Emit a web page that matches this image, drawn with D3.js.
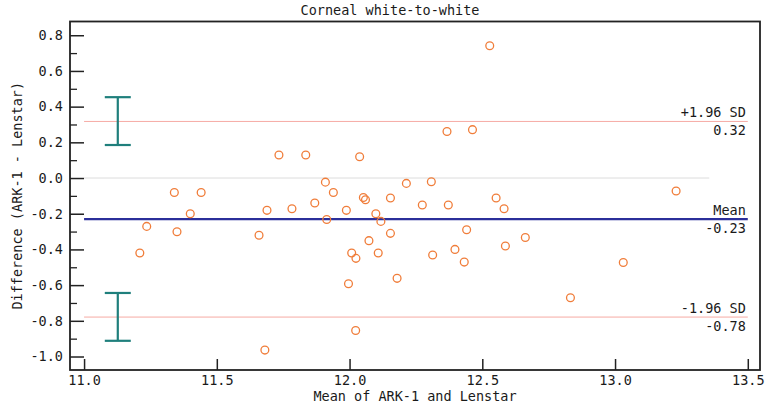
<!DOCTYPE html>
<html>
<head>
<meta charset="utf-8">
<script src="https://cdn.jsdelivr.net/npm/d3@7"></script>
<style>
  html, body { margin: 0; padding: 0; background: #fff; }
  svg { display: block; }
  text { font-family: "DejaVu Sans Mono", "Liberation Mono", monospace; fill: #1a1a1a; }
</style>
</head>
<body>
<svg id="chart" width="766" height="406"></svg>
<script>
// ---- data ----
const title = "Corneal white-to-white";
const xLabel = "Mean of ARK-1 and Lenstar";
const yLabel = "Difference (ARK-1 - Lenstar)";

const meanVals = [
  11.734, 11.835, 11.340, 11.441, 11.400, 11.236, 11.350, 11.210, 11.689, 11.659,
  11.783, 11.869, 11.909, 11.939, 11.914, 11.681, 12.528, 12.367, 12.463, 12.038,
  12.214, 12.308, 12.052, 12.060, 12.154, 11.988, 12.274, 12.372, 12.552, 12.582,
  12.099, 12.118, 12.154, 12.441, 12.662, 12.073, 12.008, 12.024, 12.108, 12.313,
  12.397, 12.432, 12.587, 12.179, 11.996, 12.832, 12.023, 13.230, 13.031
];
const diffVals = [
  0.129, 0.129, -0.081, -0.081, -0.200, -0.271, -0.301, -0.420, -0.181, -0.321,
  -0.172, -0.140, -0.023, -0.081, -0.232, -0.964, 0.741, 0.261, 0.271, 0.119,
  -0.030, -0.021, -0.109, -0.122, -0.112, -0.181, -0.151, -0.151, -0.112, -0.172,
  -0.200, -0.243, -0.310, -0.290, -0.333, -0.351, -0.420, -0.450, -0.420, -0.431,
  -0.400, -0.471, -0.381, -0.562, -0.592, -0.671, -0.854, -0.073, -0.473
];

// limits of agreement
const limitNames = ["+1.96 SD", "Mean", "-1.96 SD"];
const limitVals = [0.317, -0.230, -0.779];
const limitText = ["0.32", "-0.23", "-0.78"];
// confidence intervals of the limits [low, high]
const ciLow = [0.185, -0.912];
const ciHigh = [0.453, -0.644];
const ciX = 11.127;
// reference lines x-extent
const lineXRange = [11.0, 13.5];
const zeroLineXRange = [11.0, 13.355];

const xDomain = [10.947, 13.546];
const yDomain = [-1.0756, 0.877];
const xTicks = [11.0, 11.5, 12.0, 12.5, 13.0, 13.5];
const yTicks = [-1.0, -0.8, -0.6, -0.4, -0.2, 0.0, 0.2, 0.4, 0.6, 0.8];
const yMinorTicks = [-0.9, -0.7, -0.5, -0.3, -0.1, 0.1, 0.3, 0.5, 0.7];

// ---- layout ----
const W = 766, H = 406;
const m = { left: 70, top: 21.5, right: 6, bottom: 36 };
const svg = d3.select("#chart");

const x = d3.scaleLinear().domain(xDomain).range([m.left, W - m.right]);
const y = d3.scaleLinear().domain(yDomain).range([H - m.bottom, m.top]);

const fs = 13.5;

// zero line
svg.append("line")
  .attr("x1", x(zeroLineXRange[0])).attr("x2", x(zeroLineXRange[1]))
  .attr("y1", y(0)).attr("y2", y(0))
  .attr("stroke", "#dcdcdc").attr("stroke-width", 1);

// SD lines
[0, 2].forEach(i => {
  svg.append("line")
    .attr("x1", x(lineXRange[0])).attr("x2", x(lineXRange[1]))
    .attr("y1", y(limitVals[i])).attr("y2", y(limitVals[i]))
    .attr("stroke", "#f6aaa4").attr("stroke-width", 1);
});

// CI error bars
const ciColor = "#1f7f7c";
ciLow.forEach((lo, i) => {
  const hi = ciHigh[i];
  const g = svg.append("g").attr("stroke", ciColor).attr("stroke-width", 2.2);
  g.append("line").attr("x1", x(ciX)).attr("x2", x(ciX)).attr("y1", y(lo)).attr("y2", y(hi));
  g.append("line").attr("x1", x(ciX) - 13).attr("x2", x(ciX) + 13).attr("y1", y(lo)).attr("y2", y(lo));
  g.append("line").attr("x1", x(ciX) - 13).attr("x2", x(ciX) + 13).attr("y1", y(hi)).attr("y2", y(hi));
});

// mean line
svg.append("line")
  .attr("x1", x(lineXRange[0])).attr("x2", x(lineXRange[1]))
  .attr("y1", y(limitVals[1])).attr("y2", y(limitVals[1]))
  .attr("stroke", "#2b2f9a").attr("stroke-width", 2.4);

// labels for limits
limitVals.forEach((v, i) => {
  svg.append("text")
    .attr("x", x(lineXRange[1]) - 2).attr("y", y(v) - 4)
    .attr("text-anchor", "end").attr("font-size", fs)
    .text(limitNames[i]);
  svg.append("text")
    .attr("x", x(lineXRange[1]) - 2).attr("y", y(v) + 14)
    .attr("text-anchor", "end").attr("font-size", fs)
    .text(limitText[i]);
});

// points
svg.append("g").selectAll("circle")
  .data(meanVals.map((mv, i) => [mv, diffVals[i]]))
  .join("circle")
  .attr("cx", d => x(d[0])).attr("cy", d => y(d[1]))
  .attr("r", 3.9)
  .attr("fill", "none")
  .attr("stroke", "#f07d3a")
  .attr("stroke-width", 1.3);

// axes
const yAxis = d3.axisLeft(y).tickValues(yTicks).tickSize(-14).tickPadding(7)
  .tickFormat(d3.format(".1f"));
const gy = svg.append("g").attr("transform", `translate(${m.left},0)`).call(yAxis);
gy.select(".domain").remove();
gy.selectAll(".tick line").attr("stroke", "#222").attr("stroke-width", 1.5);
gy.selectAll("text").attr("font-size", fs).attr("fill", "#1a1a1a")
  .style("font-family", "DejaVu Sans Mono, monospace")
  .text(d => d3.format(".1f")(d).replace("−", "-"));

const yMinor = d3.axisLeft(y).tickValues(yMinorTicks).tickSize(-7).tickFormat("");
const gym = svg.append("g").attr("transform", `translate(${m.left},0)`).call(yMinor);
gym.select(".domain").remove();
gym.selectAll(".tick line").attr("stroke", "#222").attr("stroke-width", 1.3);

const xAxis = d3.axisBottom(x).tickValues(xTicks).tickSize(-11).tickPadding(5)
  .tickFormat(d3.format(".1f"));
const gx = svg.append("g").attr("transform", `translate(0,${H - m.bottom})`).call(xAxis);
gx.select(".domain").remove();
gx.selectAll(".tick line").attr("stroke", "#222").attr("stroke-width", 1.5);
gx.selectAll("text").attr("font-size", fs).attr("fill", "#1a1a1a")
  .style("font-family", "DejaVu Sans Mono, monospace");

// frame
svg.append("rect")
  .attr("x", m.left).attr("y", m.top)
  .attr("width", W - m.right - m.left).attr("height", H - m.bottom - m.top)
  .attr("fill", "none").attr("stroke", "#222").attr("stroke-width", 1.8);

// titles
svg.append("text")
  .attr("x", (m.left + W - m.right) / 2 - 25).attr("y", 15)
  .attr("text-anchor", "middle").attr("font-size", fs)
  .text(title);

svg.append("text")
  .attr("x", (m.left + W - m.right) / 2).attr("y", 401)
  .attr("text-anchor", "middle").attr("font-size", fs)
  .text(xLabel);

svg.append("text")
  .attr("transform", `translate(22, ${(m.top + H - m.bottom) / 2}) rotate(-90)`)
  .attr("text-anchor", "middle").attr("font-size", fs)
  .text(yLabel);
</script>
</body>
</html>
